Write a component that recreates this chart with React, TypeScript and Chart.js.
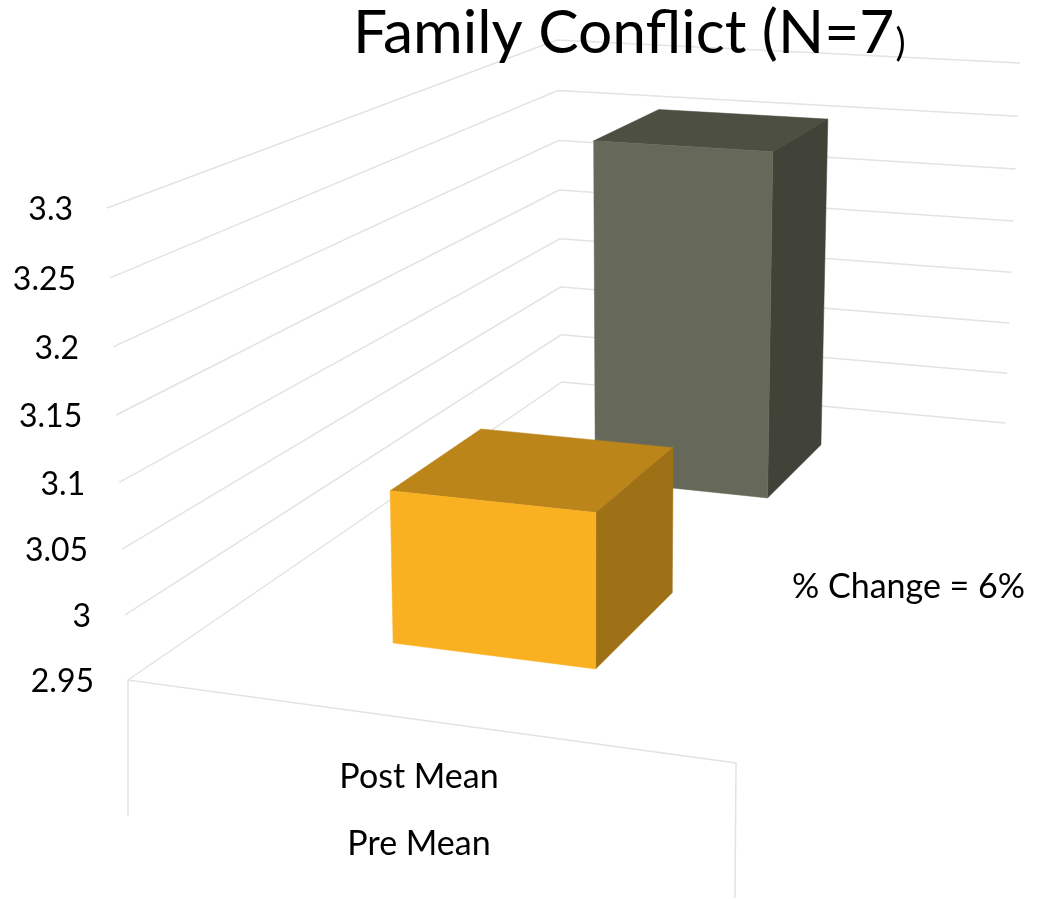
import React, { useEffect, useRef } from "react";
import { Chart, registerables, LinearScale, CategoryScale } from "chart.js";

// ---- data ----
const categories = ["Pre Mean", "Post Mean"];
const meanValues = [3.07, 3.26];
const barColors = ["#F9B122", "#666959"];
const yTicks = [2.95, 3, 3.05, 3.1, 3.15, 3.2, 3.25, 3.3];
const titleMain = "Family Conflict (N=7";
const titleEnd = ")";
const changeNote = "% Change = 6%";

// ---- scene layout: corners of the floor and of the top level of the box ----
type Pt = [number, number];
const floorCorners: Pt[] = [[128, 680], [736, 763], [1005, 423], [562, 382]]; // FL FR BR BL
const topCorners: Pt[] = [[107, 208], [743, 252], [1020, 63], [557, 40]];
const perspectiveK = 0.96;
const barSpan: [number, number] = [0.325, 0.677];
const gridColor = "#E3E3E3";
const FONT = "Lato";
const TICK_SIZE = 32;
const LABEL_SIZE = 34;

function project(u: number, d: number, w: number): Pt {
  const c = floorCorners.map((p, i) => [
    p[0] + (topCorners[i][0] - p[0]) * w,
    p[1] + (topCorners[i][1] - p[1]) * w,
  ]);
  const [p0, p1, p2, p3] = c;
  const dx1 = p1[0] - p2[0], dx2 = p3[0] - p2[0], sx = p0[0] - p1[0] + p2[0] - p3[0];
  const dy1 = p1[1] - p2[1], dy2 = p3[1] - p2[1], sy = p0[1] - p1[1] + p2[1] - p3[1];
  const den = dx1 * dy2 - dx2 * dy1;
  const g = (sx * dy2 - dx2 * sy) / den;
  const h = (dx1 * sy - sx * dy1) / den;
  const a = p1[0] - p0[0] + g * p1[0], b = p3[0] - p0[0] + h * p3[0];
  const e = p1[1] - p0[1] + g * p1[1], f = p3[1] - p0[1] + h * p3[1];
  const q = 1 + g * u + h * d;
  return [(p0[0] + a * u + b * d) / q, (p0[1] + e * u + f * d) / q];
}

function levelOf(scale: any, value: number) {
  return (scale.bottom - scale.getPixelForValue(value)) / (scale.bottom - scale.top);
}

function placeItems(items: any[], where: (i: number) => Pt) {
  items.forEach((it, i) => {
    it.options.translation = where(i);
    it.options.textBaseline = "middle";
    it.textOffset = 0;
  });
  return items;
}

class SkewLinearScale extends (LinearScale as any) {
  static id = "skewLinear";
  getPixelForValue(value: number) {
    const t = (value - this.min) / (this.max - this.min);
    const s = (perspectiveK * t) / (1 + (perspectiveK - 1) * t);
    return this.bottom - (this.bottom - this.top) * s;
  }
  _computeLabelItems(area: any) {
    const items = super._computeLabelItems(area);
    return placeItems(items, (i) => {
      const v = this.ticks[i].value;
      const w = levelOf(this, v);
      items[i].options.textAlign = "right";
      return [project(0, 0, w)[0] - 34, this.getPixelForValue(v) + 2];
    });
  }
}

class SkewCategoryScale extends (CategoryScale as any) {
  static id = "skewCategory";
  _computeLabelItems(area: any) {
    const items = super._computeLabelItems(area);
    return placeItems(items, (i) => {
      items[i].options.textAlign = "center";
      return [419, 844 - 67 * i];
    });
  }
}

function shade(hex: string, f: number) {
  const n = parseInt(hex.slice(1), 16);
  const c = [(n >> 16) & 255, (n >> 8) & 255, n & 255].map((v) => Math.round(v * f));
  return `rgb(${c[0]},${c[1]},${c[2]})`;
}

function quad(ctx: CanvasRenderingContext2D, pts: Pt[], color: string) {
  ctx.beginPath();
  pts.forEach((p, i) => (i ? ctx.lineTo(p[0], p[1]) : ctx.moveTo(p[0], p[1])));
  ctx.closePath();
  ctx.fillStyle = color;
  ctx.strokeStyle = color;
  ctx.lineWidth = 0.5;
  ctx.fill();
  ctx.stroke();
}

const scenePlugin = {
  id: "scene3d",
  beforeDatasetsDraw(chart: any) {
    const { ctx } = chart;
    const y = chart.scales.y;
    ctx.save();
    ctx.strokeStyle = gridColor;
    ctx.lineWidth = 1.5;
    y.ticks.forEach((tick: any) => {
      const w = levelOf(y, tick.value);
      const a = project(0, 0, w), b = project(0, 1, w), c = project(1, 1, w);
      ctx.beginPath();
      ctx.moveTo(a[0], a[1]);
      ctx.lineTo(b[0], b[1]);
      ctx.lineTo(c[0], c[1]);
      ctx.stroke();
    });
    // front edge of the floor and the two drops below it
    const fl = project(0, 0, 0), fr = project(1, 0, 0);
    ctx.beginPath();
    ctx.moveTo(fl[0], fl[1] + 136);
    ctx.lineTo(fl[0], fl[1]);
    ctx.lineTo(fr[0], fr[1]);
    ctx.lineTo(fr[0] - 1, fr[1] + 135);
    ctx.stroke();
    ctx.restore();
  },
  beforeDatasetDraw(chart: any, args: any) {
    const { ctx, chartArea } = chart;
    const y = chart.scales.y;
    const ds = chart.data.datasets[args.index];
    const bars = args.meta.data;
    const [u0, u1] = barSpan;
    ctx.save();
    for (let i = bars.length - 1; i >= 0; i--) {
      const bar = bars[i];
      const d0 = (bar.x - bar.width / 2 - chartArea.left) / (chartArea.right - chartArea.left);
      const d1 = (bar.x + bar.width / 2 - chartArea.left) / (chartArea.right - chartArea.left);
      const w = levelOf(y, ds.data[i]);
      const color = ds.backgroundColor[i];
      quad(ctx, [project(u0, d0, w), project(u1, d0, w), project(u1, d1, w), project(u0, d1, w)], shade(color, 0.75));
      quad(ctx, [project(u1, d0, w), project(u1, d1, w), project(u1, d1, 0), project(u1, d0, 0)], shade(color, 0.64));
      quad(ctx, [project(u0, d0, w), project(u1, d0, w), project(u1, d0, 0), project(u0, d0, 0)], color);
    }
    ctx.restore();
    return false;
  },
  afterDraw(chart: any) {
    const { ctx } = chart;
    ctx.save();
    ctx.fillStyle = "#000";
    ctx.textAlign = "left";
    ctx.textBaseline = "alphabetic";
    ctx.font = `60.5px ${FONT}`;
    ctx.fillText(titleMain, 353, 53);
    const w = ctx.measureText(titleMain).width;
    ctx.font = `38px ${FONT}`;
    ctx.fillText(titleEnd, 353 + w + 1, 56);
    ctx.font = `${LABEL_SIZE}px ${FONT}`;
    ctx.fillText(changeNote, 792, 598);
    ctx.restore();
  },
};

Chart.register(...registerables, SkewLinearScale as any, SkewCategoryScale as any);

export default function App() {
  const ref = useRef<HTMLCanvasElement>(null);
  useEffect(() => {
    const chart = new Chart(ref.current as HTMLCanvasElement, {
      type: "bar",
      data: {
        labels: categories,
        datasets: [{ label: "Mean", data: meanValues, backgroundColor: barColors, categoryPercentage: 1, barPercentage: 0.4 }],
      },
      options: {
        animation: false,
        responsive: false,
        layout: { padding: { top: 208, right: 49, left: 0, bottom: 0 } },
        plugins: { legend: { display: false }, title: { display: false }, tooltip: { enabled: false } },
        scales: {
          x: {
            type: "skewCategory",
            offset: true,
            grid: { display: false },
            border: { display: false },
            afterFit: (s: any) => { s.height = 219; },
            ticks: { autoSkip: false, maxRotation: 0, color: "#000", font: { family: FONT, size: LABEL_SIZE } },
          },
          y: {
            type: "skewLinear",
            min: 2.95,
            max: 3.3,
            beginAtZero: false,
            grid: { display: false },
            border: { display: false },
            afterFit: (s: any) => { s.width = 128; },
            afterBuildTicks: (s: any) => { s.ticks = yTicks.map((value) => ({ value })); },
            ticks: { autoSkip: false, color: "#000", font: { family: FONT, size: TICK_SIZE }, callback: (v: any) => String(v) },
          },
        },
      } as any,
      plugins: [scenePlugin],
    } as any);
    return () => chart.destroy();
  }, []);
  return (
    <div style={{ position: "absolute", left: 0, top: 0, background: "#fff" }}>
      <canvas ref={ref} width={1049} height={899} style={{ display: "block" }} />
    </div>
  );
}
